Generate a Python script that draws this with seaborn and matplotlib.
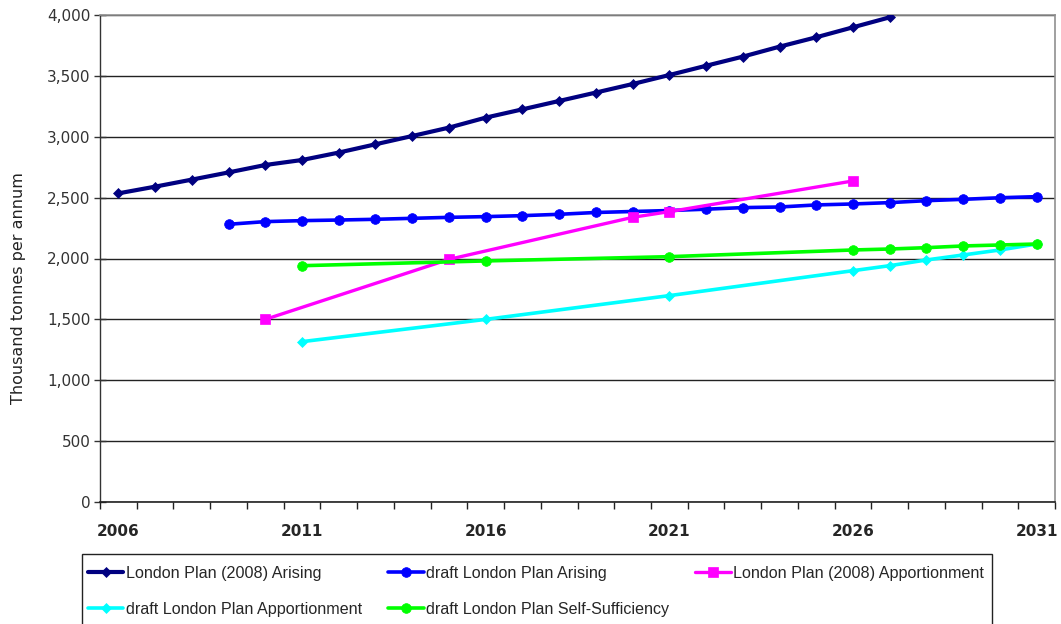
import matplotlib
matplotlib.use("Agg")
import matplotlib.pyplot as plt
import matplotlib.ticker as mticker
import matplotlib.patches as mpatches
import seaborn as sns
import pandas as pd

# ---- data ----
lp2008_arising_years = list(range(2006, 2028))
lp2008_arising = [2535, 2590, 2648, 2707, 2768, 2809, 2870, 2938, 3006, 3075, 3157,
                  3225, 3294, 3363, 3433, 3507, 3583, 3658, 3740, 3817, 3899, 3981]

draft_arising_years = list(range(2009, 2032))
draft_arising = [2281, 2303, 2311, 2316, 2322, 2330, 2338, 2344, 2352, 2363, 2378, 2386,
                 2394, 2405, 2418, 2423, 2440, 2448, 2459, 2475, 2486, 2499, 2508]

lp2008_apport_years = [2010, 2015, 2020, 2021, 2026]
lp2008_apport = [1500, 1993, 2338, 2385, 2637]

draft_apport_years = [2011, 2016, 2021, 2026, 2027, 2028, 2029, 2030, 2031]
draft_apport = [1317, 1500, 1695, 1900, 1941, 1988, 2029, 2070, 2119]

self_suff_years = [2011, 2016, 2021, 2026, 2027, 2028, 2029, 2030, 2031]
self_suff = [1941, 1980, 2015, 2070, 2078, 2089, 2103, 2111, 2119]

series_names = ["London Plan (2008) Arising", "draft London Plan Arising",
                "London Plan (2008) Apportionment", "draft London Plan Apportionment",
                "draft London Plan Self-Sufficiency"]
x_labels = ["2006", "2011", "2016", "2021", "2026", "2031"]
first_year, last_year = 2006, 2031

# ---- styling ----
sns.set_style("white")
plt.rcParams["font.family"] = ["DejaVu Sans"]

W, H = 1061, 624
fig = plt.figure(figsize=(W / 100, H / 100), dpi=100)
ax = fig.add_axes([100 / W, (H - 502) / H, (1055 - 100) / W, (502 - 15) / H])

styles = [
    dict(color="#000080", marker="D", markersize=5, linewidth=3.0),
    dict(color="#0000FF", marker="o", markersize=7, linewidth=2.6),
    dict(color="#FF00FF", marker="s", markersize=7, linewidth=2.4),
    dict(color="#00FFFF", marker="D", markersize=5, linewidth=2.6),
    dict(color="#00FF00", marker="o", markersize=7, linewidth=2.6),
]
data = [
    (lp2008_arising_years, lp2008_arising),
    (draft_arising_years, draft_arising),
    (lp2008_apport_years, lp2008_apport),
    (draft_apport_years, draft_apport),
    (self_suff_years, self_suff),
]

for name, (xs, ys), st in zip(series_names, data, styles):
    df = pd.DataFrame({"year": xs, "value": ys})
    sns.lineplot(data=df, x="year", y="value", ax=ax, label=name,
                 color=st["color"], marker=st["marker"], markersize=st["markersize"],
                 linewidth=st["linewidth"], markeredgecolor=st["color"],
                 markerfacecolor=st["color"], markeredgewidth=0.5, zorder=3)

# axes limits & ticks
ax.set_xlim(first_year - 0.5, last_year + 0.5)
ax.set_ylim(0, 4000)
ax.set_xticks([int(s) for s in x_labels])
ax.set_xticklabels(x_labels, fontweight="bold", fontsize=11)
ax.set_xticks([first_year - 0.5 + k for k in range(last_year - first_year + 2)], minor=True)
ax.tick_params(axis="x", which="major", length=0, pad=16)
ax.tick_params(axis="x", which="minor", length=5, width=1, direction="out", color="#222222")

ax.yaxis.set_major_locator(mticker.MultipleLocator(500))
ax.yaxis.set_minor_locator(mticker.MultipleLocator(200))
ax.yaxis.set_major_formatter(mticker.FuncFormatter(lambda v, p: f"{int(v):,}"))
ax.tick_params(axis="y", which="major", length=8, width=1, direction="inout",
               labelsize=11, labelcolor="#333333", color="#333333", pad=3)
ax.tick_params(axis="y", which="minor", length=5, width=1, direction="out", color="#333333")
ax.tick_params(axis="y", left=True)
ax.tick_params(axis="x", bottom=True, which="both")

ax.grid(axis="y", which="major", color="#222222", linewidth=1.0)
ax.grid(axis="x", visible=False)
ax.set_axisbelow(True)

for side in ["top", "right"]:
    ax.spines[side].set_visible(True)
    ax.spines[side].set_color("#909090")
    ax.spines[side].set_linewidth(1.2)
ax.spines["left"].set_color("#333333")
ax.spines["bottom"].set_color("#222222")
ax.spines["left"].set_linewidth(1.0)
ax.spines["bottom"].set_linewidth(1.2)

ax.set_xlabel("")
ax.set_ylabel("Thousand tonnes per annum", fontsize=11.5, color="#222222")
ax.yaxis.set_label_coords(-0.078, 0.44)

handles, labels = ax.get_legend_handles_labels()
order = [0, 3, 1, 4, 2]  # row-wise fill for 3 columns
handles = [handles[i] for i in order]
labels = [labels[i] for i in order]
leg = ax.legend(handles, labels, loc="upper left",
                bbox_to_anchor=(88 / W, 1 - 566 / H), bbox_transform=fig.transFigure,
                ncol=3, frameon=False,
                prop={"family": ["Liberation Sans", "DejaVu Sans"], "size": 11.6},
                handlelength=2.2, handletextpad=0.15, columnspacing=1.62,
                labelspacing=1.3, borderpad=0, borderaxespad=0)

# legend frame (extends below the figure edge, as in the reference)
frame = mpatches.Rectangle((82 / W, -40 / H), (992 - 82) / W, (H - 554 + 40) / H,
                           transform=fig.transFigure, fill=False, edgecolor="#222222",
                           linewidth=1.0, clip_on=False)
fig.patches.append(frame)

fig.savefig("out.png", dpi=100)
